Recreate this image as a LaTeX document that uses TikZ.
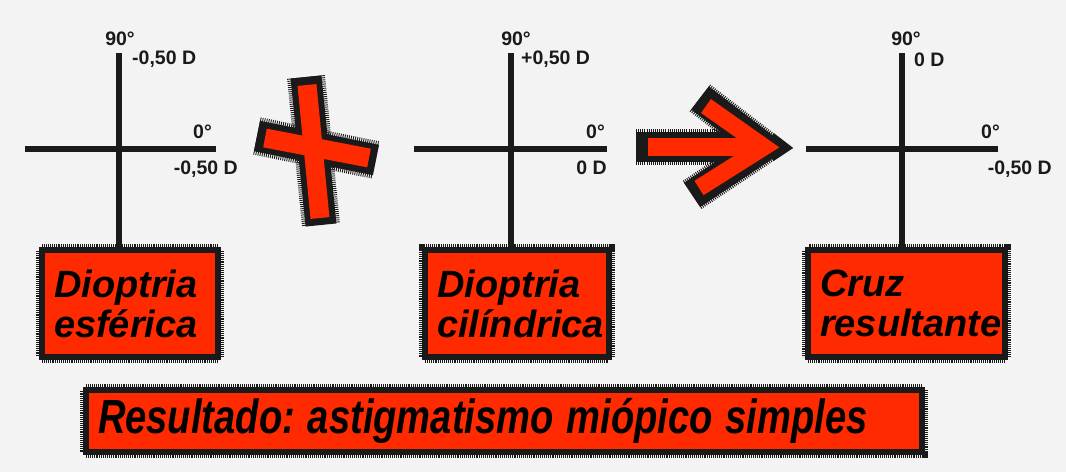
\documentclass[tikz,border=0pt]{standalone}
\usepackage{fontspec}
\setmainfont{Liberation Sans}
\definecolor{bgc}{HTML}{F3F3F3}
\definecolor{hred}{HTML}{FF2A00}
\definecolor{ink}{HTML}{1A1A1A}
\frenchspacing
\begin{document}
\begin{tikzpicture}[x=1pt,y=-1pt,
  axisline/.style={line width=6pt, draw=ink},
  lbl/.style={font=\fontsize{19.5}{20}\selectfont\bfseries, inner sep=0pt, text=ink},
  hbox/.style={draw=ink, line width=6.5pt, fill=hred,
     preaction={draw=ink, line width=12pt, dash pattern=on 0.8pt off 1.1pt},
     inner xsep=12pt, inner ysep=0pt,
     align=left, font=\fontsize{38}{40}\selectfont\bfseries\itshape, text=black, minimum height=107pt},
  fuzz/.style={draw=ink, line width=#1, dash pattern=on 0.9pt off 1.2pt, line join=miter},
  strokeout/.style={draw=ink, line width=#1, line join=miter},
  strokein/.style={draw=hred, line width=#1, line join=miter}
]
\useasboundingbox (0,0) rectangle (1066,472);
\fill[bgc] (0,0) rectangle (1066,472);

% ---------- cross 1 ----------
\coordinate (c1l) at (25,149); \coordinate (c1r) at (216,149);
\coordinate (c1t) at (119,53); \coordinate (c1b) at (119,255);
\draw[axisline] (c1l) -- (c1r);
\draw[axisline] (c1t) -- (c1b);
\node[lbl, anchor=base] (c1a) at (120,45) {90°};
\node[lbl, anchor=base west] (c1b1) at (132,64) {-0,50 D};
\node[lbl, anchor=base east] (c1c) at (212,138) {0°};
\node[lbl, anchor=base east] (c1d) at (238,174) {-0,50 D};

% ---------- cross 2 ----------
\coordinate (c2l) at (414,149); \coordinate (c2r) at (607,149);
\coordinate (c2t) at (511,53); \coordinate (c2b) at (511,255);
\draw[axisline] (c2l) -- (c2r);
\draw[axisline] (c2t) -- (c2b);
\node[lbl, anchor=base] (c2a) at (516,45) {90°};
\node[lbl, anchor=base west] (c2b1) at (521,64) {+0,50 D};
\node[lbl, anchor=base east] (c2c) at (605,138) {0°};
\node[lbl, anchor=base east] (c2d) at (607,174) {0 D};

% ---------- cross 3 ----------
\coordinate (c3l) at (806,149); \coordinate (c3r) at (998,149);
\coordinate (c3t) at (902,53); \coordinate (c3b) at (902,255);
\draw[axisline] (c3l) -- (c3r);
\draw[axisline] (c3t) -- (c3b);
\node[lbl, anchor=base] (c3a) at (906,45) {90°};
\node[lbl, anchor=base west] (c3b1) at (914,66) {0 D};
\node[lbl, anchor=base east] (c3c) at (1000,138) {0°};
\node[lbl, anchor=base east] (c3d) at (1052,174) {-0,50 D};

% ---------- plus sign ----------
\coordinate (pvt) at (306,77); \coordinate (pvb) at (321,225);
\coordinate (pvt2) at (307,85); \coordinate (pvb2) at (320,218);
\coordinate (phl) at (257,136); \coordinate (phr) at (376,160);
\coordinate (phl2) at (265,138); \coordinate (phr2) at (369,158);
\draw[fuzz=38pt] (pvt) -- (pvb);
\draw[fuzz=38pt] (phl) -- (phr);
\draw[strokeout=31pt] (pvt) -- (pvb);
\draw[strokeout=31pt] (phl) -- (phr);
\draw[strokein=19pt] (pvt2) -- (pvb2);
\draw[strokein=19pt] (phl2) -- (phr2);

% ---------- arrow ----------
\coordinate (as) at (636,147); \coordinate (ae) at (762,147);
\coordinate (as2) at (648,147); \coordinate (ae2) at (760,147);
\coordinate (au) at (700,98); \coordinate (al) at (692,195);
\coordinate (av) at (764,147);
\coordinate (au2) at (706,106); \coordinate (al2) at (699,188);
\draw[fuzz=36pt] (as) -- (ae);
\draw[fuzz=34pt] (au) -- (av) -- (al);
\draw[strokeout=30pt] (as) -- (ae);
\draw[strokeout=29pt] (au) -- (av) -- (al);
\draw[strokein=18pt] (as2) -- (ae2);
\draw[strokein=17pt] (au2) -- (av) -- (al2);

% ---------- boxes ----------
\node[hbox, minimum width=176pt, text width=152pt] (b1) at (130,303.5) {Dioptria\\esférica};
\node[hbox, minimum width=184pt, text width=160pt] (b2) at (517,303.5) {Dioptria\\cilíndrica};
\node[hbox, minimum width=197pt, text width=173pt] (b3) at (906.5,303.5) {Cruz\\resultante};

\node[hbox, minimum width=836pt, minimum height=62pt, text width=812pt,
      font=\fontsize{48}{48}\selectfont\bfseries\itshape] (b4) at (504,421)
      {\raisebox{-3pt}{\scalebox{0.795}[1]{Resultado: astigmatismo miópico simples}}};
\end{tikzpicture}
\end{document}
